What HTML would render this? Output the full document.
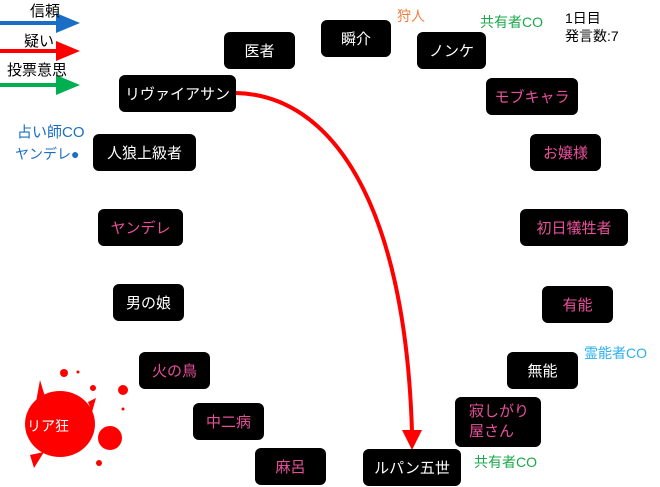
<!DOCTYPE html>
<html><head><meta charset="utf-8"><style>
body{margin:0;width:660px;height:487px;background:#fff;position:relative;overflow:hidden;font-family:"Liberation Sans","Noto Sans CJK JP",sans-serif;}
.b{position:absolute;background:#000;border-radius:6px;color:#fff;font-size:15px;display:flex;align-items:center;justify-content:center;box-sizing:border-box;height:37px;}
.p{color:#e8509a;}
.t{position:absolute;font-size:14px;white-space:nowrap;line-height:18px;}
svg{position:absolute;left:0;top:0;}
</style></head><body>
<svg width="660" height="487">
<line x1="0" y1="23" x2="58" y2="23" stroke="#1a6fc4" stroke-width="4"/><polygon points="56,13 80,23 56,33" fill="#1a6fc4"/>
<line x1="0" y1="51" x2="58" y2="51" stroke="#f00" stroke-width="4"/><polygon points="56,41 80,51 56,61" fill="#f00"/>
<line x1="0" y1="85" x2="58" y2="85" stroke="#00b050" stroke-width="4"/><polygon points="56,75 80,85 56,95" fill="#00b050"/>
<path d="M236,93 C330,95 405,200 412,432" fill="none" stroke="#f00" stroke-width="4"/>
<polygon points="402,430 422,430 412,450" fill="#f00"/>
<g fill="#f00">
<ellipse cx="60" cy="424" rx="35" ry="33"/>
<path d="M40,380 L46,400 L36,402 Z"/>
<path d="M30,455 L34,468 L44,452 Z"/>
<path d="M88,402 L96,398 L92,412 Z"/>
<circle cx="110" cy="438" r="12"/><circle cx="123" cy="390" r="5"/><circle cx="93" cy="388" r="3"/>
<circle cx="64" cy="373" r="4"/><circle cx="78" cy="372" r="1.5"/><circle cx="123" cy="409" r="1.5"/><circle cx="99" cy="463" r="3"/>
</g>
</svg>
<div class="t" style="left:30px;top:3px;font-size:15px">信頼</div>
<div class="t" style="left:24px;top:33px;font-size:15px">疑い</div>
<div class="t" style="left:7px;top:62px;font-size:15px">投票意思</div>
<div class="t" style="left:17px;top:124px;color:#1a6fc4;font-size:15px">占い師CO</div>
<div class="t" style="left:15px;top:145px;color:#1a6fc4;font-size:14px">ヤンデレ●</div>
<div class="t" style="left:397px;top:7px;color:#f08040">狩人</div>
<div class="t" style="left:480px;top:13px;color:#1aa84a">共有者CO</div>
<div class="t" style="left:565px;top:9px;color:#000">1日目<br>発言数:7</div>
<div class="t" style="left:584px;top:344px;color:#2ab0f0">霊能者CO</div>
<div class="t" style="left:474px;top:453px;color:#1aa84a">共有者CO</div>
<div class="t" style="left:27px;top:417px;color:#fff">リア狂</div>
<div class="b" style="left:224px;top:32px;width:71px">医者</div>
<div class="b" style="left:321px;top:20px;width:70px">瞬介</div>
<div class="b" style="left:417px;top:32px;width:69px">ノンケ</div>
<div class="b" style="left:119px;top:75px;width:117px">リヴァイアサン</div>
<div class="b p" style="left:486px;top:78px;width:92px">モブキャラ</div>
<div class="b" style="left:93px;top:134px;width:103px">人狼上級者</div>
<div class="b p" style="left:530px;top:134px;width:71px">お嬢様</div>
<div class="b p" style="left:98px;top:209px;width:85px">ヤンデレ</div>
<div class="b p" style="left:520px;top:209px;width:108px">初日犠牲者</div>
<div class="b" style="left:113px;top:284px;width:71px">男の娘</div>
<div class="b p" style="left:542px;top:286px;width:71px">有能</div>
<div class="b p" style="left:139px;top:352px;width:71px">火の鳥</div>
<div class="b" style="left:507px;top:352px;width:71px">無能</div>
<div class="b p" style="left:193px;top:403px;width:71px">中二病</div>
<div class="b p" style="left:455px;top:397px;width:86px;height:50px;justify-content:flex-start;padding-left:14px;line-height:20px">寂しがり<br>屋さん</div>
<div class="b p" style="left:255px;top:448px;width:71px">麻呂</div>
<div class="b" style="left:363px;top:449px;width:98px">ルパン五世</div>
</body></html>
